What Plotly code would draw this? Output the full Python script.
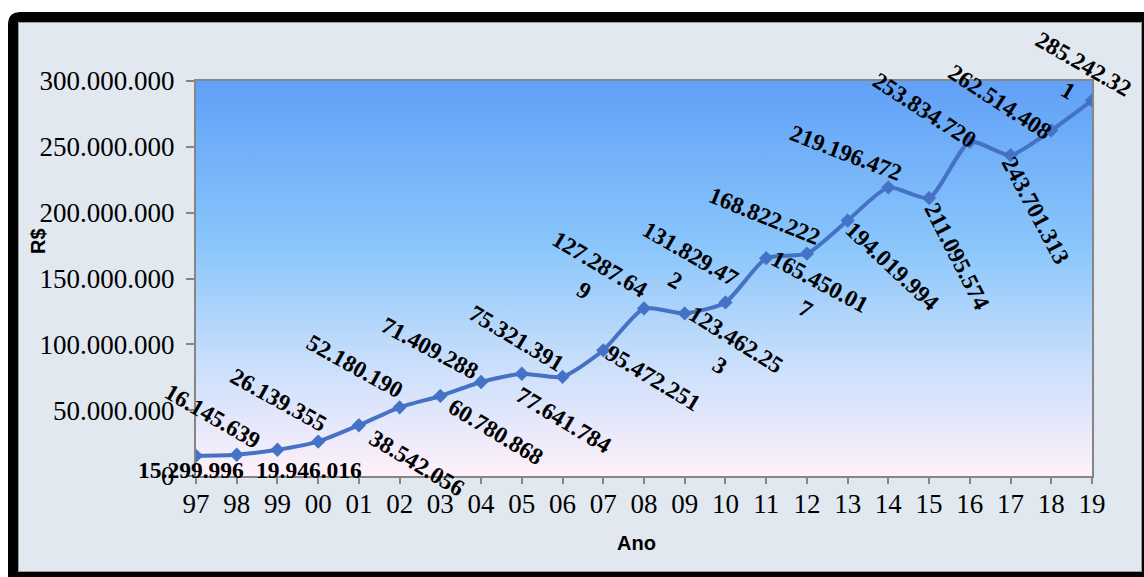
import base64
import plotly.graph_objects as go

# ---- data -----------------------------------------------------------------
YEARS = ["97", "98", "99", "00", "01", "02", "03", "04", "05", "06", "07", "08",
         "09", "10", "11", "12", "13", "14", "15", "16", "17", "18", "19"]
VALUES = [15299996, 16145639, 19946016, 26139355, 38542056, 52180190, 60780868,
          71409288, 77641784, 75321391, 95472251, 127287649, 123462253, 131829472,
          165450017, 168822222, 194019994, 219196472, 211095574, 253834720,
          243701313, 262514408, 285242321]
Y_TICKS = [0, 50000000, 100000000, 150000000, 200000000, 250000000, 300000000]
X_TITLE = "Ano"
Y_TITLE = "R$"

# ---- label layout: (x shift px, y shift px downward, rotation deg) --------
LABEL_LAYOUT = [(-5, 14, 0), (-24, -39, 30), (32, 20, 0), (-39, -42, 29),
                (58, 38, 31), (-45, -41, 29), (56, 36, 31), (-51, -34, 28),
                (42, 46, 31), (-46, -39, 31), (50, 28, 31), (-52, -31, 31),
                (43, 39, 32), (-42, -35, 30), (47, 37, 28), (-42, -38, 22),
                (45, 45, 43), (-42, -34, 21), (28, 58, 63), (-45, -32, 33),
                (25, 55, 62), (-51, -28, 33), (-16, -23, 30)]
WRAPPED = {11, 12, 13, 14, 22}

W, H = 1144, 577
L, R, T, B = 196, 1092, 81, 476
LINE_COLOR = "#4472C4"
SERIF = "Times New Roman, Liberation Serif, serif"
SANS = "Arial, Liberation Sans, sans-serif"


def px(x):
    return (x - L) / (R - L)


def py(y):
    return (B - y) / (B - T)


def fmt(v):
    return f"{v:,}".replace(",", ".")


fig = go.Figure()
fig.add_trace(go.Scatter(
    x=YEARS, y=VALUES, mode="lines+markers",
    line=dict(color=LINE_COLOR, width=4, shape="spline", smoothing=0.6),
    marker=dict(symbol="diamond", size=11, color=LINE_COLOR),
    hoverinfo="skip", showlegend=False,
))

# data labels (x given as category index so "00".."09" stay categories)
for i, v in enumerate(VALUES):
    s = fmt(v)
    if i in WRAPPED:
        s = s[:-1] + "<br>" + s[-1]
    dx, dy, ang = LABEL_LAYOUT[i]
    fig.add_annotation(
        x=i, y=v, xref="x", yref="y", text=s, showarrow=False,
        xanchor="center", yanchor="middle", xshift=dx, yshift=-dy,
        textangle=ang, align="center",
        font=dict(family=SERIF, size=23.5, color="black", weight="bold"),
    )

# axis titles
fig.add_annotation(x=px(38), y=py(241), xref="paper", yref="paper", text=Y_TITLE,
                   showarrow=False, textangle=-90, xanchor="center", yanchor="middle",
                   font=dict(family=SANS, size=20, color="black", weight="bold"))
fig.add_annotation(x=px(636), y=py(543), xref="paper", yref="paper", text=X_TITLE,
                   showarrow=False, xanchor="center", yanchor="middle",
                   font=dict(family=SANS, size=20, color="black", weight="bold"))

# gradient plot-area fill
grad_svg = (
    '<svg xmlns="http://www.w3.org/2000/svg" width="100" height="100" '
    'viewBox="0 0 100 100" preserveAspectRatio="none">'
    '<defs><linearGradient id="g" x1="0" y1="0" x2="0" y2="1">'
    '<stop offset="0" stop-color="#60A0F7"/>'
    '<stop offset="0.42" stop-color="#8AC6FB"/>'
    '<stop offset="0.72" stop-color="#CADFFB"/>'
    '<stop offset="1" stop-color="#FFF0FA"/>'
    '</linearGradient></defs>'
    '<rect x="0" y="0" width="100" height="100" fill="url(#g)"/></svg>'
)
grad_uri = "data:image/svg+xml;base64," + base64.b64encode(grad_svg.encode()).decode()
fig.add_layout_image(source=grad_uri, xref="paper", yref="paper", x=0, y=1,
                     sizex=1, sizey=1, xanchor="left", yanchor="top",
                     sizing="stretch", layer="below")

# chart frame: black rounded border with white outside
frame = (
    f"M {px(8)},{py(600)} L {px(8)},{py(24)} Q {px(8)},{py(12)} {px(20)},{py(12)} "
    f"L {px(1170)},{py(12)} L {px(1170)},{py(600)} Z "
    f"M {px(18)},{py(572)} L {px(18)},{py(22)} L {px(1142)},{py(22)} "
    f"L {px(1142)},{py(572)} Z"
)
shapes = [
    dict(type="path", path=frame, xref="paper", yref="paper", fillcolor="black",
         fillrule="evenodd", line=dict(width=0), layer="below"),
    dict(type="rect", xref="paper", yref="paper", x0=px(-5), x1=px(8), y0=py(-5),
         y1=py(600), fillcolor="white", line=dict(width=0), layer="below"),
    dict(type="rect", xref="paper", yref="paper", x0=px(-5), x1=px(1170), y0=py(-5),
         y1=py(12), fillcolor="white", line=dict(width=0), layer="below"),
    dict(type="path", xref="paper", yref="paper",
         path=f"M {px(8)},{py(12)} L {px(20)},{py(12)} Q {px(8)},{py(12)} {px(8)},{py(24)} Z",
         fillcolor="white", line=dict(width=0), layer="below"),
    # thin grey inner edge of the frame
    dict(type="path", xref="paper", yref="paper",
         path=f"M {px(18.5)},{py(571.5)} L {px(18.5)},{py(22.5)} L {px(1141.5)},{py(22.5)} "
              f"L {px(1141.5)},{py(571.5)} Z",
         line=dict(color="#9A9A9A", width=1), layer="below"),
]

axis_common = dict(linecolor="#868686", linewidth=2, tickcolor="#868686",
                   tickwidth=1.5, showgrid=False, zeroline=False,
                   tickfont=dict(family=SERIF, size=27, color="black"))

fig.update_layout(
    width=W, height=H,
    margin=dict(l=L, r=W - R, t=T, b=H - B, pad=0),
    paper_bgcolor="#E1E8F0", plot_bgcolor="rgba(0,0,0,0)",
    separators=",.",
    shapes=shapes,
    xaxis=dict(type="category", categoryorder="array", categoryarray=YEARS,
               range=[0, len(YEARS) - 1], ticks="outside", ticklen=6,
               showline=True, mirror=True, ticklabelstandoff=-3, **axis_common),
    yaxis=dict(range=[0, 300000000], tickvals=Y_TICKS, tickformat=",d",
               ticks="outside", ticklen=8, showline=True, mirror=True,
               ticklabelstandoff=6, **axis_common),
    # inner halves of the crossing tick marks
    xaxis2=dict(type="category", categoryorder="array", categoryarray=YEARS,
                range=[0, len(YEARS) - 1], overlaying="x", anchor="y2",
                side="bottom", ticks="inside", ticklen=8, tickcolor="#868686",
                tickwidth=1.5, showticklabels=False, showgrid=False,
                zeroline=False, showline=False, tickvals=YEARS),
    yaxis2=dict(range=[0, 300000000], overlaying="y", anchor="x2", side="left",
                tickvals=Y_TICKS, ticks="inside", ticklen=7, tickcolor="#868686",
                tickwidth=1.5, showticklabels=False, showgrid=False,
                zeroline=False, showline=False),
)

fig.write_html("out.html")
